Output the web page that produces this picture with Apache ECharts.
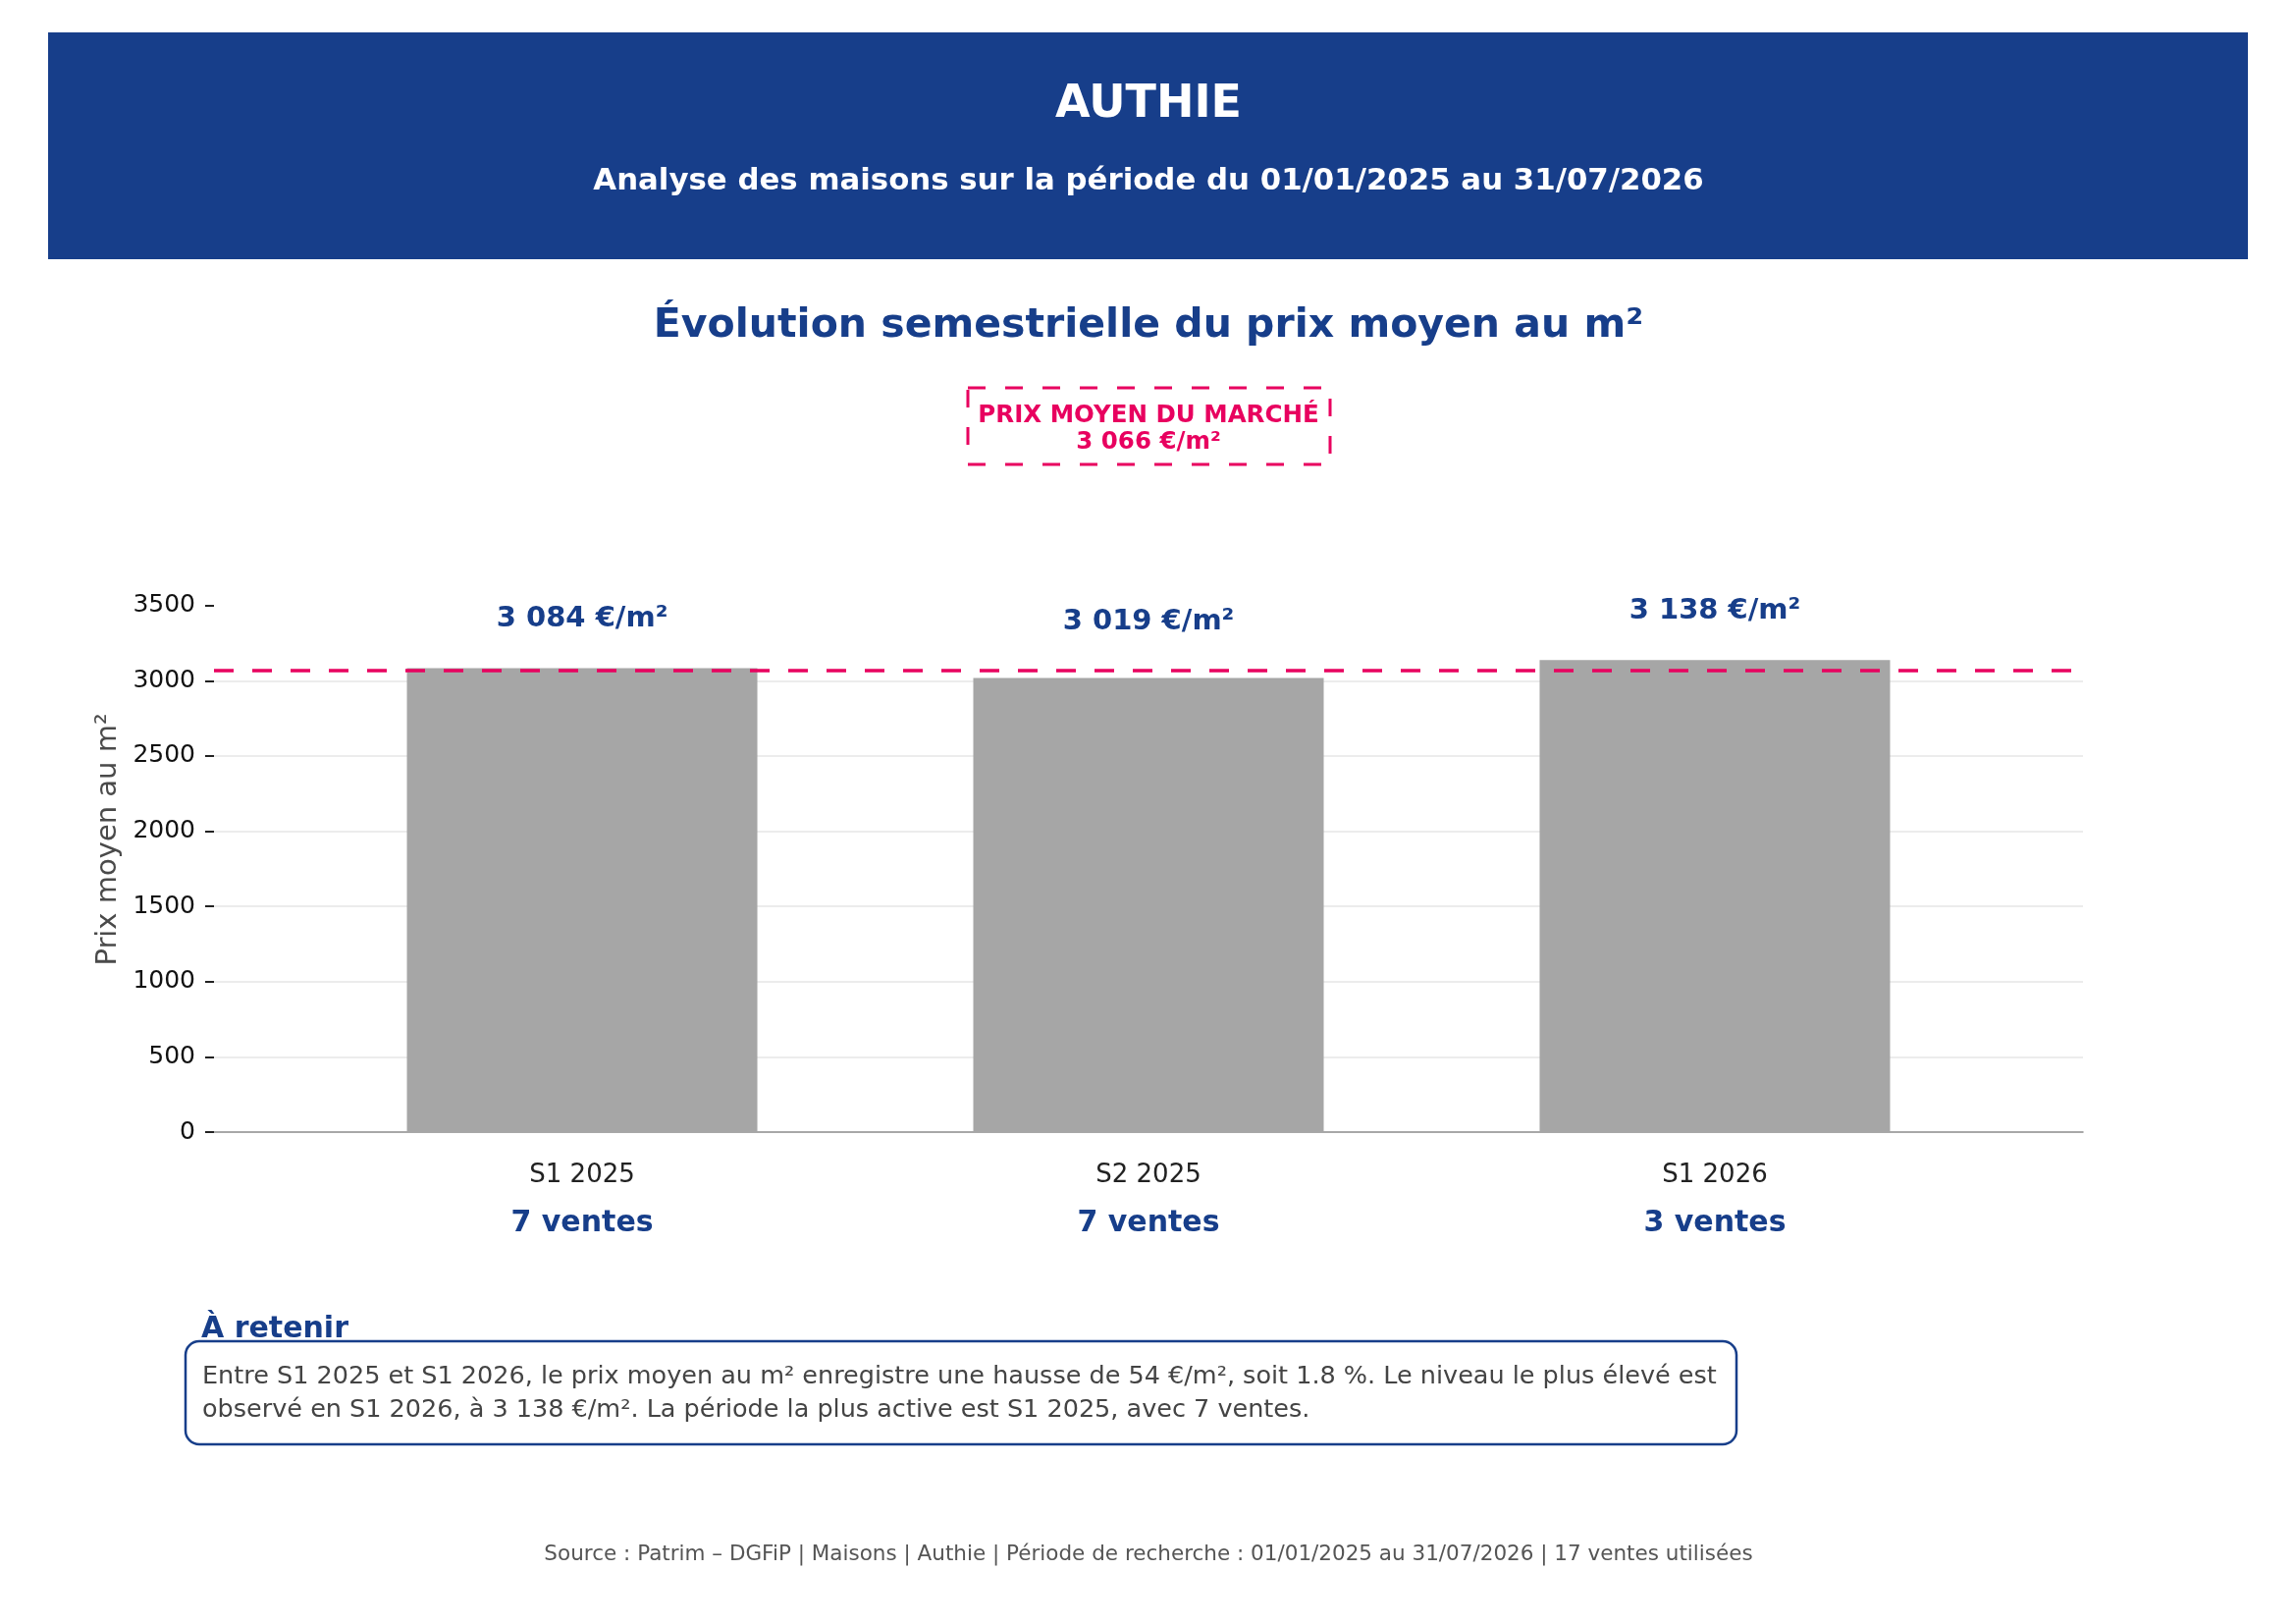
<!DOCTYPE html>
<html>
<head>
<meta charset="utf-8">
<title>Authie - prix moyen au m²</title>
<script src="https://cdn.jsdelivr.net/npm/echarts@6/dist/echarts.min.js"></script>
<style>
  html, body { margin: 0; padding: 0; background: #fff; }
  #chart { width: 2339px; height: 1654px; }
</style>
</head>
<body>
<div id="chart"></div>
<script>
// données
const periods = ['S1 2025', 'S2 2025', 'S1 2026'];
const prices = [3084, 3019, 3138];
const salesCount = [7, 7, 3];
const marketAvg = 3066;
const yTicks = [0, 500, 1000, 1500, 2000, 2500, 3000, 3500];

const BLUE = '#173E8A';
const PINK = '#E8005F';
const FONT = 'DejaVu Sans';

function fmt(n) {
  return String(n).replace(/\B(?=(\d{3})+(?!\d))/g, ' ');
}

const xIdx = periods.map((p, i) => i);

const chart = echarts.init(document.getElementById('chart'), null, { renderer: 'canvas' });

var option = {
  backgroundColor: '#fff',
  animation: false,
  textStyle: { fontFamily: FONT },
  grid: {
    left: 218,
    right: 217,
    top: 557,
    bottom: 501
  },
  xAxis: {
    type: 'value',
    min: -0.65,
    max: 2.65,
    splitLine: { show: false },
    axisTick: { show: false },
    axisLine: { show: true, onZero: false, lineStyle: { color: '#8c8c8c', width: 1.5 } },
    axisLabel: {
      customValues: xIdx,
      margin: 20,
      formatter: function (v) {
        const i = Math.round(v);
        return '{a|' + periods[i] + '}\n{b|' + salesCount[i] + ' ventes}';
      },
      rich: {
        a: { fontFamily: FONT, fontSize: 26, color: '#222', lineHeight: 49 },
        b: { fontFamily: FONT, fontSize: 30, fontWeight: 'bold', color: BLUE, lineHeight: 49 }
      }
    }
  },
  yAxis: {
    type: 'value',
    min: 0,
    max: 3890,
    interval: 500,
    name: 'Prix moyen au m²',
    nameLocation: 'middle',
    nameGap: 90,
    nameTextStyle: { fontFamily: FONT, fontSize: 29, color: '#4a4a4a' },
    axisLine: { show: false, onZero: false },
    axisTick: {
      show: true,
      customValues: yTicks,
      length: 9,
      lineStyle: { color: '#222', width: 2 }
    },
    axisLabel: {
      customValues: yTicks,
      margin: 19,
      fontFamily: FONT,
      fontSize: 25,
      color: '#111',
      formatter: function (v) { return String(v); }
    },
    splitLine: {
      show: true,
      showMinLine: false,
      showMaxLine: false,
      lineStyle: { color: '#e6e6e6', width: 1.7 }
    }
  },
  series: [{
    name: 'prix',
    type: 'bar',
    barWidth: 357,
    itemStyle: { color: '#A6A6A6' },
    data: xIdx.map(i => [i, prices[i]]),
    markLine: {
      silent: true,
      symbol: ['none', 'none'],
      z: 5,
      label: { show: false },
      lineStyle: { color: PINK, width: 3.5, type: [20, 19] },
      data: [{ yAxis: marketAvg }]
    }
  }, {
    // étiquettes posées au-dessus de la barre ou de la ligne du marché
    name: 'etiquettes',
    type: 'scatter',
    silent: true,
    symbolSize: 1,
    itemStyle: { color: 'transparent', opacity: 1 },
    data: xIdx.map(i => [i, Math.max(prices[i], marketAvg)]),
    label: {
      show: true,
      position: 'top',
      distance: 35,
      fontFamily: FONT,
      fontSize: 29,
      fontWeight: 'bold',
      color: BLUE,
      formatter: function (p) {
        return fmt(prices[p.dataIndex]) + ' €/m²';
      }
    }
  }],
  graphic: [
    // bandeau
    {
      type: 'rect',
      shape: { x: 49, y: 33, width: 2241, height: 231 },
      style: { fill: BLUE }
    },
    {
      type: 'text',
      style: {
        x: 1170, y: 107, text: 'AUTHIE',
        fontFamily: FONT, fontSize: 46, fontWeight: 'bold', fill: '#fff',
        align: 'center', verticalAlign: 'middle'
      }
    },
    {
      type: 'text',
      style: {
        x: 1170, y: 185, text: 'Analyse des maisons sur la période du 01/01/2025 au 31/07/2026',
        fontFamily: FONT, fontSize: 30.8, fontWeight: 'bold', fill: '#fff',
        align: 'center', verticalAlign: 'middle'
      }
    },
    {
      type: 'text',
      style: {
        x: 1170, y: 332, text: 'Évolution semestrielle du prix moyen au m²',
        fontFamily: FONT, fontSize: 41, fontWeight: 'bold', fill: BLUE,
        align: 'center', verticalAlign: 'middle'
      }
    },
    // encadré prix moyen du marché
    {
      type: 'rect',
      shape: { x: 986, y: 395, width: 369, height: 78 },
      style: { fill: '#fff', stroke: PINK, lineWidth: 3, lineDash: [18, 20] }
    },
    {
      type: 'text',
      style: {
        x: 1170, y: 437, text: 'PRIX MOYEN DU MARCHÉ\n' + fmt(marketAvg) + ' €/m²',
        fontFamily: FONT, fontSize: 24.5, fontWeight: 'bold', fill: PINK,
        lineHeight: 27, align: 'center', verticalAlign: 'middle'
      }
    },
    // à retenir
    {
      type: 'text',
      style: {
        x: 205, y: 1354, text: 'À retenir',
        fontFamily: FONT, fontSize: 30, fontWeight: 'bold', fill: BLUE,
        align: 'left', verticalAlign: 'middle'
      }
    },
    {
      type: 'rect',
      shape: { x: 189, y: 1366, width: 1580, height: 105, r: 14 },
      style: { fill: '#fff', stroke: BLUE, lineWidth: 2.5 }
    },
    {
      type: 'text',
      style: {
        x: 206, y: 1419,
        text: 'Entre S1 2025 et S1 2026, le prix moyen au m² enregistre une hausse de 54 €/m², soit 1.8 %. Le niveau le plus élevé est\n' +
              'observé en S1 2026, à 3 138 €/m². La période la plus active est S1 2025, avec 7 ventes.',
        fontFamily: FONT, fontSize: 25.5, fill: '#444', lineHeight: 34,
        align: 'left', verticalAlign: 'middle'
      }
    },
    // source
    {
      type: 'text',
      style: {
        x: 1170, y: 1583,
        text: 'Source : Patrim – DGFiP | Maisons | Authie | Période de recherche : 01/01/2025 au 31/07/2026 | 17 ventes utilisées',
        fontFamily: FONT, fontSize: 21.5, fill: '#555',
        align: 'center', verticalAlign: 'middle'
      }
    }
  ]
};

chart.setOption(option);
</script>
</body>
</html>
